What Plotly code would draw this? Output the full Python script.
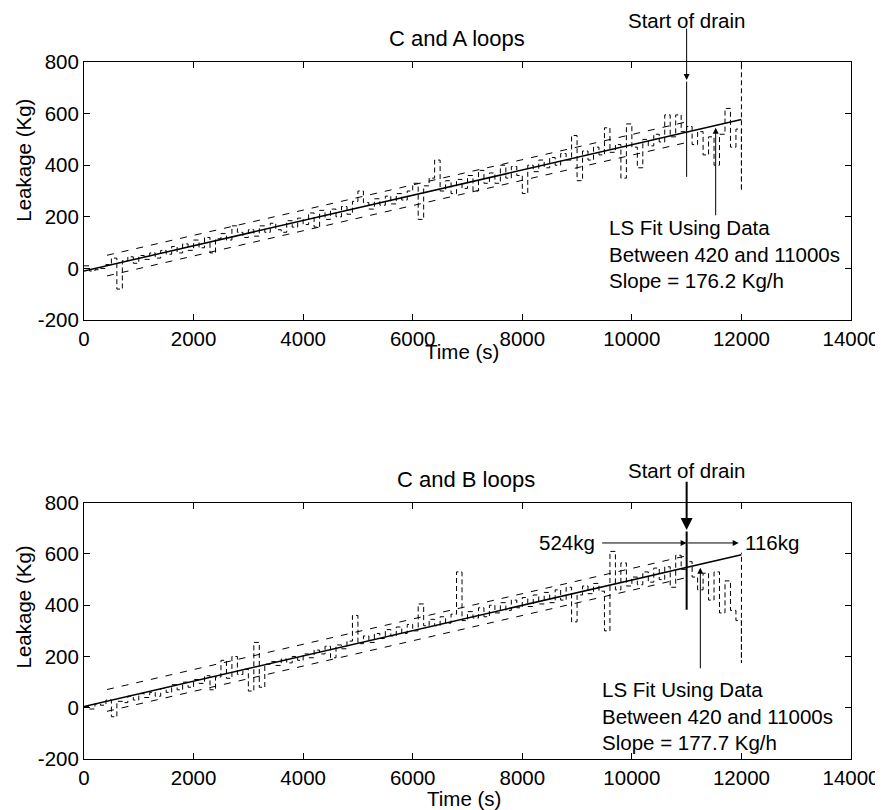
import plotly.graph_objects as go

# ---------------- data ----------------
time_s = list(range(0, 12001, 100))

leak_ca = [10, -10, -5, 0, 15, 40, -80, 30, 45, 20,
           50, 35, 60, 40, 70, 55, 85, 60, 95, 70,
           110, 80, 120, 60, 115, 135, 110, 165, 140, 120,
           150, 125, 165, 140, 175, 150, 140, 185, 160, 195,
           170, 215, 160, 225, 190, 230, 200, 240, 210, 260,
           300, 255, 230, 270, 245, 280, 250, 290, 265, 300,
           330, 190, 320, 350, 420, 300, 340, 290, 345, 310,
           360, 300, 380, 330, 370, 330, 400, 350, 395, 360,
           290, 400, 375, 420, 390, 430, 400, 445, 420, 515,
           340, 455, 420, 470, 440, 545, 450, 480, 350, 560,
           470, 390, 500, 475, 520, 490, 595, 510, 595, 530,
           550, 480, 530, 440, 510, 400, 520, 620, 470, 540,
           300]
end_ca = 820

leak_cb = [5, -5, 15, 10, 30, -35, 25, 20, 45, 30,
           55, 40, 60, 45, 75, 60, 90, 70, 100, 80,
           110, 95, 125, 70, 120, 185, 115, 200, 130, 150,
           65, 255, 80, 170, 180, 165, 190, 175, 200, 185,
           210, 195, 225, 210, 240, 195, 245, 230, 260, 360,
           250, 280, 255, 290, 270, 305, 280, 315, 290, 325,
           300, 405, 320, 345, 320, 355, 330, 365, 530, 340,
           375, 350, 390, 355, 400, 370, 410, 380, 420, 390,
           430, 395, 440, 405, 450, 410, 460, 420, 470, 335,
           440, 475, 445, 485, 455, 300, 610, 460, 565, 475,
           510, 480, 530, 490, 545, 500, 550, 470, 595, 540,
           570, 510, 460, 525, 420, 530, 370, 495, 380, 340,
           175]
end_cb = 605

fit_t = [0, 12000]
fit_ca = [-10, 577]
fit_cb = [5, 597]

band_t = [420, 11000]
band_ca_hi = [51, 568]
band_ca_lo = [-29, 488]
band_cb_hi = [71, 593]
band_cb_lo = [-14, 508]

x_ticks = [0, 2000, 4000, 6000, 8000, 10000, 12000, 14000]
x_tick_labels = ["0", "2000", "4000", "6000", "8000", "10000", "12000", "14000"]
y_ticks = [-200, 0, 200, 400, 600, 800]
y_tick_labels = ["-200", "0", "200", "400", "600", "800"]

FONT = "Liberation Sans, Arial, Helvetica, sans-serif"
BLK = "black"
FS = 20.5

fig = go.Figure()

panels = [
    ("x", "y", leak_ca, end_ca, fit_ca, band_ca_hi, band_ca_lo),
    ("x2", "y2", leak_cb, end_cb, fit_cb, band_cb_hi, band_cb_lo),
]
for xa, ya, leak, endv, fit, hi, lo in panels:
    fig.add_trace(go.Scatter(x=time_s + [12000], y=leak + [endv], mode="lines",
                             line=dict(color=BLK, width=1, dash="5px,3px", shape="hv"),
                             xaxis=xa, yaxis=ya, showlegend=False, hoverinfo="skip"))
    fig.add_trace(go.Scatter(x=fit_t, y=fit, mode="lines",
                             line=dict(color=BLK, width=1.5),
                             xaxis=xa, yaxis=ya, showlegend=False))
    for b in (hi, lo):
        fig.add_trace(go.Scatter(x=band_t, y=b, mode="lines",
                                 line=dict(color=BLK, width=1, dash="7px,8px"),
                                 xaxis=xa, yaxis=ya, showlegend=False))

axis_common = dict(range=[0, 14000], tickvals=x_ticks, ticktext=x_tick_labels,
                   ticks="inside", ticklen=6,
                   showline=True, linecolor=BLK, linewidth=1, mirror="ticks",
                   showgrid=False, zeroline=False, tickcolor=BLK,
                   tickfont=dict(family=FONT, size=FS, color=BLK))
yaxis_common = dict(range=[-200, 800], tickvals=y_ticks, ticktext=y_tick_labels,
                    ticks="inside", ticklen=6,
                    showline=True, linecolor=BLK, linewidth=1, mirror="ticks",
                    showgrid=False, zeroline=False, tickcolor=BLK,
                    tickfont=dict(family=FONT, size=FS, color=BLK))

fig.update_layout(
    width=883, height=810,
    margin=dict(l=76, r=40, t=54, b=59),
    paper_bgcolor="white", plot_bgcolor="white",
    font=dict(family=FONT, size=FS, color=BLK),
    xaxis=dict(domain=[0, 1], anchor="y", **axis_common),
    yaxis=dict(domain=[0.6298, 1], anchor="x", **yaxis_common),
    xaxis2=dict(domain=[0, 1], anchor="y2", **axis_common),
    yaxis2=dict(domain=[0, 0.3677], anchor="x2", **yaxis_common),
)

ann = []
def txt(text, x, y, xref="paper", yref="paper", xanchor="center", yanchor="middle", size=FS, angle=0, align="center"):
    ann.append(dict(text=text, x=x, y=y, xref=xref, yref=yref, xanchor=xanchor, yanchor=yanchor,
                    showarrow=False, textangle=angle, align=align,
                    font=dict(family=FONT, size=size, color=BLK)))

def arrow(x, y, ax, ay, xref, yref, head=True, width=1):
    ann.append(dict(text="", x=x, y=y, ax=ax, ay=ay, xref=xref, yref=yref, axref=xref, ayref=yref,
                    showarrow=True, arrowhead=2 if head else 0, arrowsize=1.2, arrowwidth=width,
                    arrowcolor=BLK))

# titles
txt("C and A loops", 0.486, 1.033, size=22)
txt("C and B loops", 0.498, 0.4003, size=22)
txt("Leakage (Kg)", -0.079, 0.859, angle=-90)
txt("Leakage (Kg)", -0.079, 0.218, angle=-90)
txt("Time (s)", 0.493, 0.584)
txt("Time (s)", 0.496, -0.056)

# top panel annotations
txt("Start of drain", 0.7855, 1.0591)
arrow(11000, 730, 11000, 935, "x", "y")
arrow(11000, 355, 11000, 730, "x", "y", head=False)
arrow(11530, 545, 11530, 200, "x", "y")
txt("LS Fit Using Data<br>Between 420 and 11000s<br>Slope = 176.2 Kg/h", 9540, 211,
    xref="x", yref="y", xanchor="left", yanchor="top", align="left")

# bottom panel annotations
txt("Start of drain", 0.7855, 0.4146)
arrow(11000, 694, 11000, 888, "x2", "y2", width=2)
arrow(11000, 382, 11000, 694, "x2", "y2", head=False, width=2)
arrow(11000, 643, 9430, 643, "x2", "y2")
arrow(11950, 643, 11000, 643, "x2", "y2")
txt("524kg", 9360, 643, xref="x2", yref="y2", xanchor="right")
txt("116kg", 12030, 643, xref="x2", yref="y2", xanchor="left")
arrow(11250, 546, 11250, 148, "x2", "y2")
txt("LS Fit Using Data<br>Between 420 and 11000s<br>Slope = 177.7 Kg/h", 9420, 125,
    xref="x2", yref="y2", xanchor="left", yanchor="top", align="left")

fig.update_layout(annotations=ann)
fig.write_html("out.html")
